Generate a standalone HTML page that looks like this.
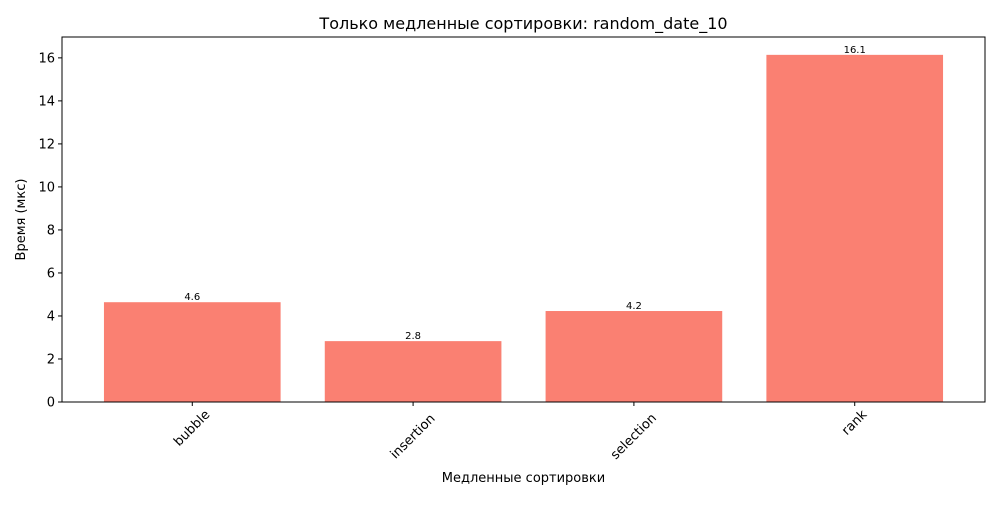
<!DOCTYPE html>
<html><head><meta charset="utf-8"><style>
body{margin:0;background:#fff;font-family:"Liberation Sans","DejaVu Sans",sans-serif;}
</style></head><body>
<svg id="chart" width="1000" height="500" xmlns="http://www.w3.org/2000/svg" font-family="DejaVu Sans, Liberation Sans, sans-serif">
<rect width="1000" height="500" fill="#fff"/>
<text x="523.5" y="29" text-anchor="middle" font-size="16">Только медленные сортировки: random_date_10</text>
<text x="523.5" y="482" text-anchor="middle" font-size="13">Медленные сортировки</text>
<text transform="translate(25,219.5) rotate(-90)" text-anchor="middle" font-size="13">Время (мкс)</text>
<g id="plot"></g>
<rect x="62" y="37" width="923" height="365" fill="none" stroke="#000" stroke-width="1"/>
</svg>
<script>
const categories = ["bubble","insertion","selection","rank"];
const values = [4.64, 2.83, 4.23, 16.14];
const labels = ["4.6","2.8","4.2","16.1"];
const yTicks = [0,2,4,6,8,10,12,14,16];
const L=62,R=985,T=37,B=402, xmin=-0.59,xmax=3.59, ymin=0,ymax=16.97;
const sx=v=>L+(v-xmin)/(xmax-xmin)*(R-L);
const sy=v=>B-(v-ymin)/(ymax-ymin)*(B-T);
const g=document.getElementById('plot');
const NS="http://www.w3.org/2000/svg";
function mk(t,a){const e=document.createElementNS(NS,t);for(const k in a)e.setAttribute(k,a[k]);g.appendChild(e);return e;}
yTicks.forEach(v=>{
  const l=mk('line',{x1:L-4,x2:L,y1:sy(v),y2:sy(v),stroke:'#000'});
  
  
  const t=mk('text',{x:L-7,y:sy(v)+4.5,'text-anchor':'end','font-size':13});
  t.textContent=v;
  
  
});
categories.forEach((c,i)=>{
  const x0=sx(i-0.4),x1=sx(i+0.4);
  const r=mk('rect',{x:x0,y:sy(values[i]),width:x1-x0,height:sy(0)-sy(values[i]),fill:'#fa8072'});
  
  
  const v=mk('text',{x:sx(i),y:sy(values[i])-2,'text-anchor':'middle','font-size':10});
  v.textContent=labels[i];
  
  
  const tk=mk('line',{x1:sx(i),x2:sx(i),y1:B,y2:B+4,stroke:'#000'});
  
  
  const len=c.length*7.8*0.7071/2;
  const t=mk('text',{transform:`translate(${sx(i)},${B+10+len}) rotate(-45)`,'text-anchor':'middle','dominant-baseline':'central','font-size':13});
  t.textContent=c;
  
  
});
</script>
</body></html>
